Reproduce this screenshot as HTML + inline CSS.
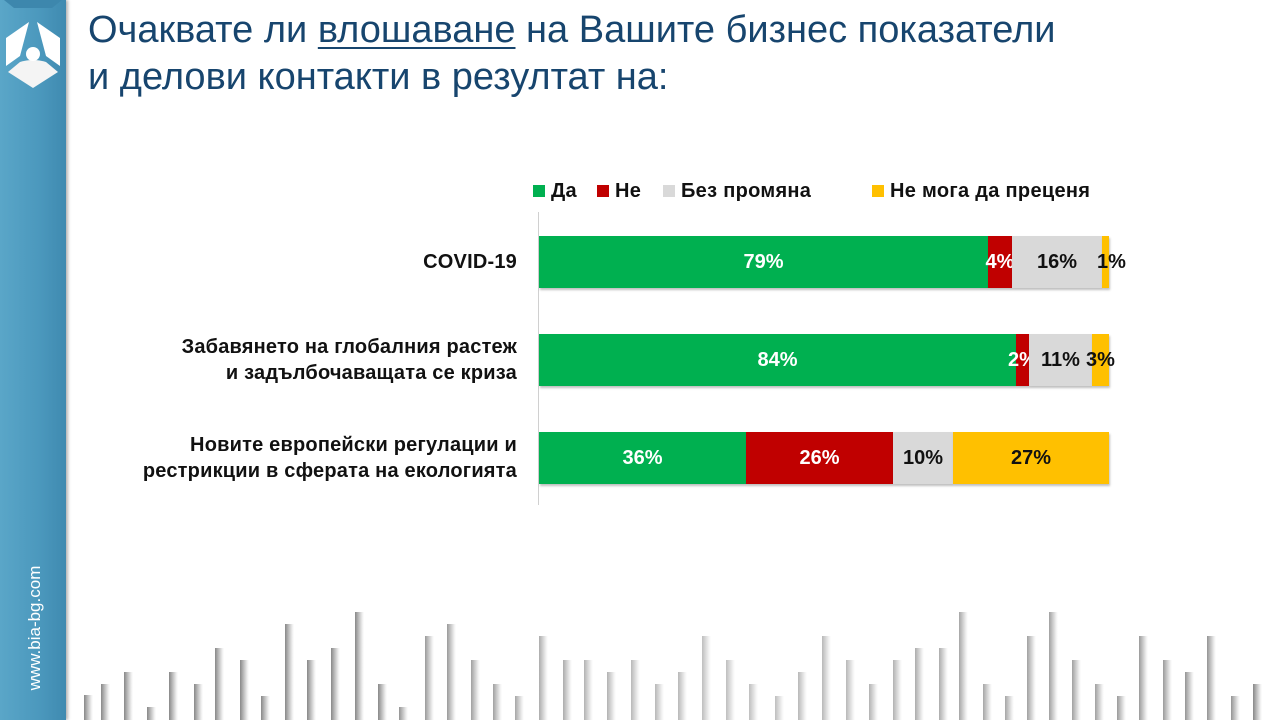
<!DOCTYPE html>
<html><head><meta charset="utf-8"><style>
*{margin:0;padding:0;box-sizing:border-box}
body{width:1280px;height:720px;position:relative;overflow:hidden;background:#fff;font-family:"Liberation Sans","DejaVu Sans",sans-serif}
.side{position:absolute;left:0;top:0;width:66px;height:720px;background:linear-gradient(90deg,#5aa6c8,#4b98bd 60%,#3f8ab0);box-shadow:2px 0 3px rgba(0,0,0,.3)}
.url{position:absolute;left:35px;top:628px;transform:translate(-50%,-50%) rotate(-90deg);color:#fff;font-size:17px;white-space:nowrap}
h1{position:absolute;left:88px;top:7px;font-weight:normal;color:#17456e;font-size:38px;line-height:47px;white-space:nowrap}
h1 u{text-decoration-thickness:2px;text-underline-offset:5px}
.leg{position:absolute;top:180px;font-size:20px;font-weight:bold;color:#111;white-space:nowrap;letter-spacing:0.3px}
.leg i{display:inline-block;width:12px;height:12px;margin-right:6px;vertical-align:0}
.axis{position:absolute;left:538px;top:212px;width:1px;height:293px;background:#d0d0d0}
.cat{position:absolute;right:763px;font-size:20px;font-weight:bold;color:#111;text-align:right;line-height:26px;white-space:nowrap;letter-spacing:0.2px}
.seg{position:absolute;height:52px;font-size:20px;font-weight:bold;display:flex;align-items:center;justify-content:center;white-space:nowrap;box-shadow:1px 2px 2px rgba(0,0,0,.25)}
.g{background:#00b050;color:#fff}.r{background:#c00000;color:#fff}.s{background:#d9d9d9;color:#111}.y{background:#ffc000;color:#111}
.b{position:absolute;bottom:0;width:9px;background:linear-gradient(90deg,#888,#bbb 40%,#eee 80%,#fff)}
</style></head><body>
<div class="side">
<svg width="66" height="90" viewBox="0 0 66 90" style="position:absolute;left:0;top:0">
<polygon points="4,0 62,0 52,8 14,8" fill="#3d87ad"/>
<path d="M29,22 L6,38 L6,66 L20,56 Z" fill="#fff"/>
<path d="M37,22 L60,38 L60,66 L46,56 Z" fill="#fff"/>
<path d="M8,72 L20,62 Q33,58 46,62 L58,72 L33,88 Z" fill="#f4f4f4"/>
<circle cx="33" cy="54" r="7" fill="#fff"/>
</svg>
<div class="url">www.bia-bg.com</div>
</div>
<h1>Очаквате ли <u>влошаване</u> на Вашите бизнес показатели<br>и делови контакти в резултат на:</h1>
<div class="leg" style="left:533px"><i style="background:#00b050"></i>Да</div>
<div class="leg" style="left:597px"><i style="background:#c00000"></i>Не</div>
<div class="leg" style="left:663px"><i style="background:#d9d9d9"></i>Без промяна</div>
<div class="leg" style="left:872px"><i style="background:#ffc000"></i>Не мога да преценя</div>
<div class="axis"></div>
<div class="cat" style="top:249px">COVID-19</div>
<div class="cat" style="top:334px">Забавянето на глобалния растеж<br>и задълбочаващата се криза</div>
<div class="cat" style="top:432px">Новите европейски регулации и<br>рестрикции в сферата на екологията</div>

<div class="seg g" style="left:539px;top:236px;width:449px">79%</div>
<div class="seg r" style="left:988px;top:236px;width:24px">4%</div>
<div class="seg s" style="left:1012px;top:236px;width:90px">16%</div>
<div class="seg y" style="left:1102px;top:236px;width:7px"><span style="margin-left:12px">1%</span></div>

<div class="seg g" style="left:539px;top:334px;width:477px">84%</div>
<div class="seg r" style="left:1016px;top:334px;width:13px">2%</div>
<div class="seg s" style="left:1029px;top:334px;width:63px">11%</div>
<div class="seg y" style="left:1092px;top:334px;width:17px">3%</div>

<div class="seg g" style="left:539px;top:432px;width:207px">36%</div>
<div class="seg r" style="left:746px;top:432px;width:147px">26%</div>
<div class="seg s" style="left:893px;top:432px;width:60px">10%</div>
<div class="seg y" style="left:953px;top:432px;width:156px">27%</div>

<div style="position:absolute;left:0;top:0;width:1280px;height:720px">
<div class="b" style="left:84px;height:25px"></div>
<div class="b" style="left:101px;height:36px"></div>
<div class="b" style="left:124px;height:48px"></div>
<div class="b" style="left:147px;height:13px"></div>
<div class="b" style="left:169px;height:48px"></div>
<div class="b" style="left:194px;height:36px"></div>
<div class="b" style="left:215px;height:72px"></div>
<div class="b" style="left:240px;height:60px"></div>
<div class="b" style="left:261px;height:24px"></div>
<div class="b" style="left:285px;height:96px"></div>
<div class="b" style="left:307px;height:60px"></div>
<div class="b" style="left:331px;height:72px"></div>
<div class="b" style="left:355px;height:108px"></div>
<div class="b" style="left:378px;height:36px"></div>
<div class="b" style="left:399px;height:13px;opacity:.9"></div>
<div class="b" style="left:425px;height:84px;opacity:.85"></div>
<div class="b" style="left:447px;height:96px;opacity:.85"></div>
<div class="b" style="left:471px;height:60px;opacity:.8"></div>
<div class="b" style="left:493px;height:36px;opacity:.8"></div>
<div class="b" style="left:515px;height:24px;opacity:.75"></div>
<div class="b" style="left:539px;height:84px;opacity:.7"></div>
<div class="b" style="left:563px;height:60px;opacity:.7"></div>
<div class="b" style="left:584px;height:60px;opacity:.65"></div>
<div class="b" style="left:607px;height:48px;opacity:.65"></div>
<div class="b" style="left:631px;height:60px;opacity:.6"></div>
<div class="b" style="left:655px;height:36px;opacity:.6"></div>
<div class="b" style="left:678px;height:48px;opacity:.6"></div>
<div class="b" style="left:702px;height:84px;opacity:.55"></div>
<div class="b" style="left:726px;height:60px;opacity:.55"></div>
<div class="b" style="left:749px;height:36px;opacity:.55"></div>
<div class="b" style="left:775px;height:24px;opacity:.55"></div>
<div class="b" style="left:798px;height:48px;opacity:.6"></div>
<div class="b" style="left:822px;height:84px;opacity:.6"></div>
<div class="b" style="left:846px;height:60px;opacity:.6"></div>
<div class="b" style="left:869px;height:36px;opacity:.65"></div>
<div class="b" style="left:893px;height:60px;opacity:.65"></div>
<div class="b" style="left:915px;height:72px;opacity:.7"></div>
<div class="b" style="left:939px;height:72px;opacity:.7"></div>
<div class="b" style="left:959px;height:108px;opacity:.75"></div>
<div class="b" style="left:983px;height:36px;opacity:.75"></div>
<div class="b" style="left:1005px;height:24px;opacity:.75"></div>
<div class="b" style="left:1027px;height:84px;opacity:.8"></div>
<div class="b" style="left:1049px;height:108px;opacity:.8"></div>
<div class="b" style="left:1072px;height:60px;opacity:.8"></div>
<div class="b" style="left:1095px;height:36px;opacity:.8"></div>
<div class="b" style="left:1117px;height:24px;opacity:.85"></div>
<div class="b" style="left:1139px;height:84px;opacity:.85"></div>
<div class="b" style="left:1163px;height:60px;opacity:.85"></div>
<div class="b" style="left:1185px;height:48px;opacity:.9"></div>
<div class="b" style="left:1207px;height:84px;opacity:.9"></div>
<div class="b" style="left:1231px;height:24px;opacity:.9"></div>
<div class="b" style="left:1253px;height:36px"></div>
</div>
</body></html>
